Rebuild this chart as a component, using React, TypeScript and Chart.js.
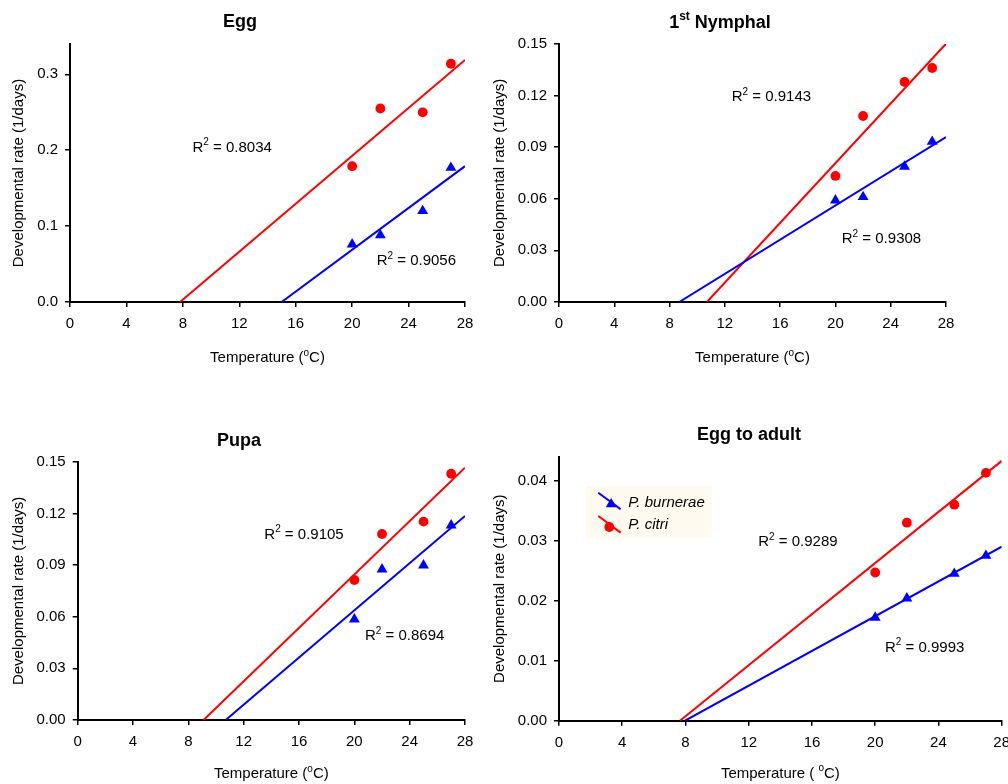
import React, { useEffect, useRef } from "react";
import { Chart, registerables } from "chart.js";

Chart.register(...registerables);

// ---------- data ----------
const temperatures = [20, 22, 25, 27];
const xTicks = [0, 4, 8, 12, 16, 20, 24, 28];
const speciesNames = ["P. burnerae", "P. citri"];

const eggBurnerae = [0.076, 0.088, 0.12, 0.177];
const eggCitri = [0.179, 0.255, 0.25, 0.314];
const eggTrendBurnerae = [[15.0, 0], [28, 0.179]];
const eggTrendCitri = [[7.8, 0], [28, 0.319]];
const eggYTicks = [0, 0.1, 0.2, 0.3];
const eggR2 = ["0.9056", "0.8034"];
const eggR2Pos = [[21.74, 0.0482], [8.68, 0.198]];

const nymphBurnerae = [0.059, 0.061, 0.0786, 0.0931];
const nymphCitri = [0.0732, 0.108, 0.1278, 0.1359];
const nymphTrendBurnerae = [[8.7, 0], [28, 0.0958]];
const nymphTrendCitri = [[10.7, 0], [28, 0.15]];
const nymphYTicks = [0, 0.03, 0.06, 0.09, 0.12, 0.15];
const nymphR2 = ["0.9308", "0.9143"];
const nymphR2Pos = [[20.46, 0.034], [12.5, 0.1167]];

const pupaBurnerae = [0.0585, 0.0875, 0.0898, 0.113];
const pupaCitri = [0.0813, 0.108, 0.1152, 0.143];
const pupaTrendBurnerae = [[10.7, 0], [28, 0.1185]];
const pupaTrendCitri = [[9.1, 0], [28, 0.1465]];
const pupaYTicks = [0, 0.03, 0.06, 0.09, 0.12, 0.15];
const pupaR2 = ["0.8694", "0.9105"];
const pupaR2Pos = [[20.77, 0.0462], [13.49, 0.1053]];

const adultBurnerae = [0.0172, 0.0204, 0.0245, 0.0275];
const adultCitri = [0.0247, 0.033, 0.036, 0.0413];
const adultTrendBurnerae = [[7.97, 0], [28, 0.029]];
const adultTrendCitri = [[7.65, 0], [28, 0.0433]];
const adultYTicks = [0, 0.01, 0.02, 0.03, 0.04];
const adultR2 = ["0.9993", "0.9289"];
const adultR2Pos = [[20.62, 0.01152], [12.6, 0.02913]];

// ---------- styling ----------
const FONT = '"Liberation Sans", Arial, Helvetica, sans-serif';
const BLUE = "#0000ff";
const RED = "#ff0000";
const Y_AXIS_W = 50;
const X_AXIS_H = 40;
const TRI_R = 6.3;
const CIRC_R = 4.9;

type Part = { t: string; sup?: boolean };

const tempTitle: Part[] = [{ t: "Temperature (" }, { t: "o", sup: true }, { t: "C)" }];
const tempTitleSpaced: Part[] = [{ t: "Temperature ( " }, { t: "o", sup: true }, { t: "C)" }];
const yTitle = "Developmental rate (1/days)";

const panels = [
  {
    title: [{ t: "Egg" }] as Part[],
    burnerae: eggBurnerae, citri: eggCitri, trendB: eggTrendBurnerae, trendC: eggTrendCitri,
    yTicks: eggYTicks, yMax: 0.34, decimals: 1, r2: eggR2, r2Pos: eggR2Pos, xTitle: tempTitle, legend: false,
    box: { left: 0, top: 0, w: 490, h: 392 }, area: { l: 70, t: 44, r: 465, b: 302 },
    titleAt: [240, 27], yTitleX: 19, xTitleDy: 60,
  },
  {
    title: [{ t: "1" }, { t: "st", sup: true }, { t: " Nymphal" }] as Part[],
    burnerae: nymphBurnerae, citri: nymphCitri, trendB: nymphTrendBurnerae, trendC: nymphTrendCitri,
    yTicks: nymphYTicks, yMax: 0.15, decimals: 2, r2: nymphR2, r2Pos: nymphR2Pos, xTitle: tempTitle, legend: false,
    box: { left: 490, top: 0, w: 518, h: 392 }, area: { l: 69, t: 43.7, r: 456, b: 302 },
    titleAt: [230, 28], yTitleX: 10, xTitleDy: 60,
  },
  {
    title: [{ t: "Pupa" }] as Part[],
    burnerae: pupaBurnerae, citri: pupaCitri, trendB: pupaTrendBurnerae, trendC: pupaTrendCitri,
    yTicks: pupaYTicks, yMax: 0.15, decimals: 2, r2: pupaR2, r2Pos: pupaR2Pos, xTitle: tempTitle, legend: false,
    box: { left: 0, top: 392, w: 490, h: 392 }, area: { l: 77.7, t: 69.7, r: 465, b: 328 },
    titleAt: [239, 54], yTitleX: 19, xTitleDy: 58,
  },
  {
    title: [{ t: "Egg to adult" }] as Part[],
    burnerae: adultBurnerae, citri: adultCitri, trendB: adultTrendBurnerae, trendC: adultTrendCitri,
    yTicks: adultYTicks, yMax: 0.044, decimals: 2, r2: adultR2, r2Pos: adultR2Pos, xTitle: tempTitleSpaced, legend: true,
    box: { left: 490, top: 392, w: 518, h: 392 }, area: { l: 69, t: 64.7, r: 511.7, b: 328.7 },
    titleAt: [259, 48], yTitleX: 10, xTitleDy: 57,
  },
];

function drawRich(
  ctx: CanvasRenderingContext2D, parts: Part[], x: number, y: number,
  size: number, weight: string, style: string, align: "left" | "center"
) {
  const supSize = Math.round(size * 0.65);
  const fontFor = (p: Part) => `${style} ${weight} ${p.sup ? supSize : size}px ${FONT}`;
  const widths = parts.map((p) => { ctx.font = fontFor(p); return ctx.measureText(p.t).width; });
  const total = widths.reduce((a, b) => a + b, 0);
  let cx = align === "center" ? x - total / 2 : x;
  ctx.textAlign = "left";
  ctx.textBaseline = "alphabetic";
  parts.forEach((p, i) => {
    ctx.font = fontFor(p);
    ctx.fillText(p.t, cx, p.sup ? y - size * 0.42 : y);
    cx += widths[i];
  });
}

function drawTriangle(ctx: CanvasRenderingContext2D, x: number, y: number, r: number) {
  ctx.beginPath();
  ctx.moveTo(x, y - r);
  ctx.lineTo(x + 0.866 * r, y + 0.5 * r);
  ctx.lineTo(x - 0.866 * r, y + 0.5 * r);
  ctx.closePath();
  ctx.fill();
}

function makeChart(canvas: HTMLCanvasElement, p: (typeof panels)[number]) {
  const decor = {
    id: "decor",
    afterDraw(chart: any) {
      const ctx: CanvasRenderingContext2D = chart.ctx;
      const ca = chart.chartArea;
      const xs = chart.scales.x;
      const ys = chart.scales.y;
      ctx.save();
      ctx.fillStyle = "#000";
      // title
      drawRich(ctx, p.title, p.titleAt[0], p.titleAt[1], 18, "bold", "normal", "center");
      // x title
      drawRich(ctx, p.xTitle, (ca.left + ca.right) / 2, ca.bottom + p.xTitleDy, 15, "normal", "normal", "center");
      // y title
      ctx.save();
      ctx.translate(p.yTitleX, (ca.top + ca.bottom) / 2);
      ctx.rotate(-Math.PI / 2);
      ctx.font = `15px ${FONT}`;
      ctx.textAlign = "center";
      ctx.textBaseline = "middle";
      ctx.fillText(yTitle, 0, 0);
      ctx.restore();
      // R² labels
      p.r2.forEach((v, i) => {
        const [dx, dy] = p.r2Pos[i];
        drawRich(ctx, [{ t: "R" }, { t: "2", sup: true }, { t: " = " + v }],
          xs.getPixelForValue(dx), ys.getPixelForValue(dy), 15, "normal", "normal", "left");
      });
      // legend
      if (p.legend) {
        const lx = ca.left + 27;
        const ly = ca.top + 29.3;
        ctx.fillStyle = "#fffaf0";
        ctx.fillRect(lx, ly, 125.7, 52.3);
        const colors = [BLUE, RED];
        speciesNames.forEach((name, i) => {
          const y0 = ly + 6.7 + i * 23.3;
          ctx.strokeStyle = colors[i];
          ctx.fillStyle = colors[i];
          ctx.lineWidth = 2;
          ctx.beginPath();
          ctx.moveTo(lx + 12.3, y0);
          ctx.lineTo(lx + 34.7, y0 + 16.6);
          ctx.stroke();
          if (i === 0) drawTriangle(ctx, lx + 25.2, y0 + 11.5, TRI_R);
          else { ctx.beginPath(); ctx.arc(lx + 23.3, y0 + 11, CIRC_R, 0, Math.PI * 2); ctx.fill(); }
          ctx.fillStyle = "#000";
          ctx.font = `italic 15px ${FONT}`;
          ctx.textAlign = "left";
          ctx.textBaseline = "alphabetic";
          ctx.fillText(name, lx + 42.3, ly + 20.7 + i * 22.6);
        });
      }
      ctx.restore();
    },
  };

  const tickFont = { family: FONT, size: 15 };
  const grid = { drawOnChartArea: false, drawTicks: true, tickLength: 5, color: "#000", lineWidth: 1.5 };
  const border = { display: true, color: "#000", width: 2 };

  return new Chart(canvas, {
    type: "scatter",
    data: {
      datasets: [
        {
          label: speciesNames[0],
          data: temperatures.map((t, i) => ({ x: t, y: p.burnerae[i] })),
          pointStyle: "triangle", pointRadius: TRI_R, pointBackgroundColor: BLUE, pointBorderColor: BLUE,
          pointBorderWidth: 0, backgroundColor: BLUE, borderColor: BLUE, order: 0,
        },
        {
          label: speciesNames[1],
          data: temperatures.map((t, i) => ({ x: t, y: p.citri[i] })),
          pointStyle: "circle", pointRadius: CIRC_R, pointBackgroundColor: RED, pointBorderColor: RED,
          pointBorderWidth: 0, backgroundColor: RED, borderColor: RED, order: 0,
        },
        {
          label: speciesNames[0] + " trend",
          data: p.trendB.map(([x, y]) => ({ x, y })),
          showLine: true, pointRadius: 0, borderColor: BLUE, borderWidth: 2, order: 1,
        },
        {
          label: speciesNames[1] + " trend",
          data: p.trendC.map(([x, y]) => ({ x, y })),
          showLine: true, pointRadius: 0, borderColor: RED, borderWidth: 2, order: 1,
        },
      ],
    } as any,
    options: {
      responsive: false,
      animation: false,
      events: [],
      layout: {
        padding: {
          left: p.area.l - Y_AXIS_W,
          top: p.area.t,
          right: p.box.w - p.area.r,
          bottom: p.box.h - p.area.b - X_AXIS_H,
        },
      },
      plugins: { legend: { display: false }, tooltip: { enabled: false }, title: { display: false } },
      scales: {
        x: {
          type: "linear", min: 0, max: 28,
          afterBuildTicks: (s: any) => { s.ticks = xTicks.map((v) => ({ value: v })); },
          afterFit: (s: any) => { s.height = X_AXIS_H; s.paddingLeft = 0; s.paddingRight = 0; },
          ticks: { font: tickFont, color: "#000", padding: 8, maxRotation: 0, autoSkip: false, callback: (v: any) => String(v) },
          grid, border,
        },
        y: {
          type: "linear", min: 0, max: p.yMax,
          afterBuildTicks: (s: any) => { s.ticks = p.yTicks.map((v) => ({ value: v })); },
          afterFit: (s: any) => { s.width = Y_AXIS_W; s.paddingTop = 0; s.paddingBottom = 0; },
          ticks: { font: tickFont, color: "#000", padding: 7, autoSkip: false, callback: (v: any) => Number(v).toFixed(p.decimals) },
          grid, border,
        },
      },
    } as any,
    plugins: [decor],
  });
}

function Panel({ p }: { p: (typeof panels)[number] }) {
  const ref = useRef<HTMLCanvasElement>(null);
  useEffect(() => {
    if (!ref.current) return;
    const chart = makeChart(ref.current, p);
    return () => chart.destroy();
  }, [p]);
  return (
    <div style={{ position: "absolute", left: p.box.left, top: p.box.top, width: p.box.w, height: p.box.h }}>
      <canvas ref={ref} width={p.box.w} height={p.box.h} style={{ width: p.box.w, height: p.box.h, display: "block" }} />
    </div>
  );
}

export default function App() {
  return (
    <div style={{ position: "absolute", left: 0, top: 0, width: 1008, height: 784, background: "#fff", overflow: "hidden" }}>
      {panels.map((p, i) => (
        <Panel key={i} p={p} />
      ))}
    </div>
  );
}
